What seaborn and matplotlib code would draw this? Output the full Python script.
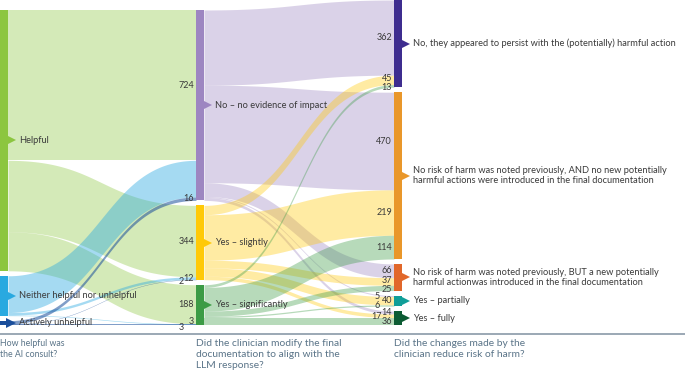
import numpy as np
import matplotlib.pyplot as plt
import seaborn as sns
from matplotlib.lines import Line2D

# --- datos ---
helpfulness = ["Helpful", "Neither helpful nor unhelpful", "Actively unhelpful"]
modified = ["No – no evidence of impact", "Yes – slightly", "Yes – significantly"]
harm = [
    "No, they appeared to persist with the (potentially) harmful action",
    "No risk of harm was noted previously, AND no new potentially\nharmful actions were introduced in the final documentation",
    "No risk of harm was noted previously, BUT a new potentially\nharmful actionwas introduced in the final documentation",
    "Yes – partially",
    "Yes – fully",
]
questions = [
    "How helpful was\nthe AI consult?",
    "Did the clinician modify the final\ndocumentation to align with the\nLLM response?",
    "Did the changes made by the\nclinician reduce risk of harm?",
]

# filas: helpfulness, columnas: modified
help_to_mod = [[724, 344, 188],
               [177, 12, 3],
               [16, 2, 3]]
# filas: modified, columnas: harm
mod_to_harm = [[362, 470, 66, 5, 14],
               [45, 219, 37, 40, 17],
               [13, 114, 25, 6, 36]]

help_colors = ["#8cc63f", "#29a9e0", "#1a4e9b"]
mod_colors = ["#9d86c1", "#ffc907", "#3c9b45"]
harm_colors = ["#3e2d8f", "#e9972a", "#e1672a", "#109e98", "#0c5b33"]

# --- estilo ---
sns.set_theme(style="white")
plt.rcParams["font.family"] = ["Lato", "DejaVu Sans"]
text_col = "#3a3a3a"
q_col = "#5a7488"

W, H = 685, 374
fig = plt.figure(figsize=(W / 100, H / 100), dpi=100)
chart_h = 325
ax = fig.add_axes([0, 1 - chart_h / H, 1, chart_h / H])

gap = 24
col_x = [0, 196, 394]
node_w = 8

M1 = np.array(help_to_mod)
M2 = np.array(mod_to_harm)
sizes = [M1.sum(axis=1), M1.sum(axis=0), M2.sum(axis=0)]
col_colors = [help_colors, mod_colors, harm_colors]
col_labels = [helpfulness, modified, harm]

heights = [s.sum() + gap * (len(s) - 1) for s in sizes]
ymax = max(heights)
ax.set_xlim(0, W)
ax.set_ylim(0, ymax)
ax.axis("off")

# posiciones de nodos (alineados abajo)
tops = []
for s, h in zip(sizes, heights):
    t = []
    cur = h
    for v in s:
        t.append(cur)
        cur -= v + gap
    tops.append(np.array(t, dtype=float))


def band(x0, x1, a_top, a_bot, b_top, b_bot, color, alpha):
    t = np.linspace(0, 1, 80)
    xs = x0 + (x1 - x0) * (1.5 * t - 1.5 * t ** 2 + t ** 3)
    s = 3 * t ** 2 - 2 * t ** 3
    ytop = a_top + (b_top - a_top) * s
    ybot = a_bot + (b_bot - a_bot) * s
    ax.fill_between(xs, ybot, ytop, color=color, alpha=alpha, linewidth=0)


# offsets de etiquetas pequeñas (px)
offsets = {
    (0, 2, 1): (-10, -2),
    (0, 1, 2): (0, 3),
    (0, 2, 2): (-10, -3),
    (1, 1, 0): (0, 1.5),
    (1, 2, 0): (0, -2),
    (1, 1, 2): (0, 1),
    (1, 2, 2): (0, -1.5),
    (1, 0, 3): (-12, 0),
    (1, 2, 3): (-12, 0),
    (1, 1, 4): (-10, -1),
}
skip = {(0, 1, 0)}

for stage, M in enumerate([M1, M2]):
    src_top = tops[stage].copy()
    tgt_top = tops[stage + 1].copy()
    x0 = col_x[stage] + node_w
    x1 = col_x[stage + 1]
    # posiciones en destino: ordenadas por origen
    tgt_pos = {}
    cur = tgt_top.copy()
    for i in range(M.shape[0]):
        for j in range(M.shape[1]):
            tgt_pos[(i, j)] = cur[j]
            cur[j] -= M[i, j]
    for i in range(M.shape[0]):
        for j in range(M.shape[1]):
            v = M[i, j]
            a = src_top[i]
            src_top[i] -= v
            b = tgt_pos[(i, j)]
            alpha = 0.55 if (stage == 0 and i == 2) else 0.37
            if stage == 0 and i == 1:
                alpha = 0.42
            band(x0, x1, a, a - v, b, b - v, col_colors[stage][i], alpha)
            if (stage, i, j) in skip:
                continue
            dx, dy = offsets.get((stage, i, j), (0, 0))
            ax.annotate(str(v), xy=(x1 - 2, b - v / 2), xytext=(dx * 0.72, dy * 0.72),
                        textcoords="offset points", ha="right", va="center",
                        fontsize=6.5, color=text_col)

# nodos, flechas y etiquetas
for c in range(3):
    s = sizes[c]
    bottoms = tops[c] - s
    ax.bar([col_x[c] + node_w / 2] * len(s), s, bottom=bottoms, width=node_w,
           color=col_colors[c], linewidth=0)
    for k, lab in enumerate(col_labels[c]):
        yc = tops[c][k] - s[k] / 2
        ax.plot(col_x[c] + node_w + 3.5, yc, marker=">", markersize=7,
                color=col_colors[c][k], markeredgewidth=0, clip_on=False)
        ax.text(col_x[c] + node_w + 11, yc, lab, ha="left", va="center",
                fontsize=6.7, color=text_col, linespacing=1.15)

# línea y preguntas
fig.add_artist(Line2D([0, 1], [1 - 334 / H, 1 - 334 / H], transform=fig.transFigure,
                      color="#8a9aa8", linewidth=1.2))
q_sizes = [6.3, 7.4, 7.4]
for c, q in enumerate(questions):
    fig.text(col_x[c] / W, 1 - 339 / H, q, ha="left", va="top",
             fontsize=q_sizes[c], color=q_col, linespacing=1.25)

fig.savefig("out.png", dpi=100)
